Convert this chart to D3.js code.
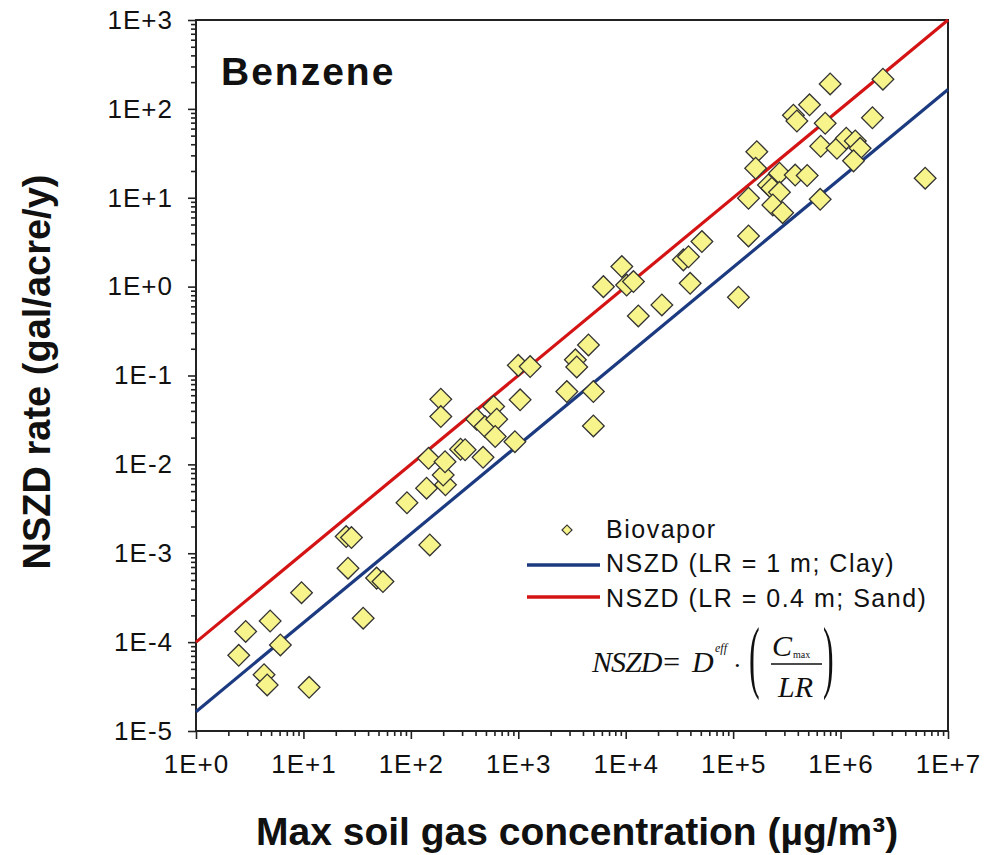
<!doctype html>
<html lang="en">
<head>
<meta charset="utf-8" />
<title>Benzene NSZD vs soil gas</title>
<script src="https://d3js.org/d3.v7.min.js"></script>
<style>
  body { margin: 0; background: #fff; }
  svg text { font-family: "Liberation Sans", Arial, sans-serif; fill: #111; }
</style>
</head>
<body>
<svg id="chart" width="985" height="855"></svg>
<script>
// Biovapor points: max soil gas concentration (ug/m3) and NSZD rate (gal/acre/y)
const conc = [2.5, 2.9, 4.9, 6.1, 4.3, 4.6, 11.3, 9.6,
  25, 28, 26, 48, 55, 36,
  92, 150, 140, 210, 200, 146, 208, 190, 190,
  290, 320, 470, 410, 490, 590, 630, 610, 930,
  1040, 1000, 1290, 2830, 5000, 5000, 3400, 3500, 4500,
  6200, 9200, 10200, 11800, 13100, 21700, 39800, 34400, 38400, 51200,
  112000, 139000, 139000, 166000, 162000, 213000, 229000, 270000, 270000, 234000,
  289000, 378000, 489000, 364000, 392000, 514000, 800000, 2.48e6, 719000, 1.98e6,
  653000, 925000, 1.13e6, 1.37e6, 1.52e6, 1.32e6, 646000, 6.13e6];
const rate = [7.1e-5, 1.32e-4, 1.73e-4, 9.3e-5, 4.3e-5, 3.3e-5, 3.1e-5, 3.6e-4,
  1.54e-3, 1.5e-3, 6.8e-4, 5.25e-4, 4.8e-4, 1.86e-4,
  3.7e-3, 1.24e-3, 5.4e-3, 5.9e-3, 7.6e-3, 0.0117, 0.0107, 0.054, 0.0345,
  0.0148, 0.0146, 0.012, 0.0322, 0.0266, 0.0447, 0.0322, 0.0206, 0.018,
  0.0532, 0.13, 0.126, 0.0659, 0.0659, 0.0271, 0.15, 0.125, 0.221,
  1.0, 1.68, 1.04, 1.14, 0.468, 0.622, 1.09, 2.0, 2.17, 3.21,
  0.76, 3.72, 9.87, 33, 21.5, 13.9, 12.8, 18.9, 11.5, 8.3,
  6.8, 18.0, 17.8, 85, 73, 111, 191, 216, 68.9, 79.4,
  38, 36, 46.7, 43.5, 36, 26, 9.6, 16.6];

// model lines, end points
const clayLine = [[1, 1.65e-5], [1e7, 165]];
const sandLine = [[1, 1e-4], [1e7, 1e3]];

const xDecades = [1, 10, 100, 1e3, 1e4, 1e5, 1e6, 1e7];
const yDecades = [1e-5, 1e-4, 1e-3, 1e-2, 1e-1, 1, 10, 100, 1000];

const legendLabels = ["Biovapor", "NSZD (LR = 1 m; Clay)", "NSZD (LR = 0.4 m; Sand)"];

const svg = d3.select("#chart");
const pLeft = 196, pRight = 948, pTop = 20, pBottom = 731;

const x = d3.scaleLog().domain([1, 1e7]).range([pLeft, pRight]);
const y = d3.scaleLog().domain([1e-5, 1e3]).range([pBottom, pTop]);

const fmt = v => {
  const e = Math.round(Math.log10(v));
  return "1E" + (e < 0 ? "-" : "+") + Math.abs(e);
};
const minors = decs => decs.slice(0, -1).flatMap(d => d3.range(2, 10).map(k => d * k));

// minor ticks
svg.append("g").attr("transform", `translate(0,${pBottom})`)
  .call(d3.axisBottom(x).tickValues(minors(xDecades)).tickSize(5).tickFormat(""))
  .call(g => g.select(".domain").remove());
svg.append("g").attr("transform", `translate(${pLeft},0)`)
  .call(d3.axisLeft(y).tickValues(minors(yDecades)).tickSize(5).tickFormat(""))
  .call(g => g.select(".domain").remove());

// major ticks + labels
const xAxis = svg.append("g").attr("transform", `translate(0,${pBottom})`)
  .call(d3.axisBottom(x).tickValues(xDecades).tickSize(8).tickPadding(16).tickFormat(fmt));
const yAxis = svg.append("g").attr("transform", `translate(${pLeft},0)`)
  .call(d3.axisLeft(y).tickValues(yDecades).tickSize(8).tickPadding(15).tickFormat(fmt));

[xAxis, yAxis].forEach(g => {
  g.selectAll("text").attr("font-size", 26).attr("letter-spacing", 1)
    .style("font-family", '"Liberation Sans", Arial, sans-serif');
  g.select(".domain").remove();
});
svg.selectAll(".tick line").attr("stroke", "#222").attr("stroke-width", 1.6);

// frame
svg.append("rect")
  .attr("x", pLeft).attr("y", pTop)
  .attr("width", pRight - pLeft).attr("height", pBottom - pTop)
  .attr("fill", "none").attr("stroke", "#222").attr("stroke-width", 2);

// lines
const line = d3.line().x(d => x(d[0])).y(d => y(d[1]));
svg.append("path").datum(clayLine).attr("d", line)
  .attr("fill", "none").attr("stroke", "#1b3a80").attr("stroke-width", 3.2);
svg.append("path").datum(sandLine).attr("d", line)
  .attr("fill", "none").attr("stroke", "#d41414").attr("stroke-width", 3.2);

// points
const diamond = d3.symbol().type(d3.symbolSquare).size(235);
svg.append("g").selectAll("path")
  .data(conc.map((c, i) => [c, rate[i]]))
  .join("path")
    .attr("d", diamond)
    .attr("transform", d => `translate(${x(d[0])},${y(d[1])}) rotate(45)`)
    .attr("fill", "#f8f48c")
    .attr("stroke", "#333")
    .attr("stroke-width", 1.3);

// title
svg.append("text").attr("x", 221).attr("y", 85)
  .attr("font-size", 39).attr("font-weight", "bold").attr("letter-spacing", 2)
  .text("Benzene");

// axis titles
svg.append("text").attr("x", 256).attr("y", 845)
  .attr("font-size", 39).attr("font-weight", "bold")
  .text("Max soil gas concentration (µg/m³)");
svg.append("text")
  .attr("transform", "translate(50,372) rotate(-90)")
  .attr("text-anchor", "middle")
  .attr("font-size", 38).attr("font-weight", "bold")
  .text("NSZD rate (gal/acre/y)");

// legend
const leg = svg.append("g");
leg.append("path")
  .attr("d", d3.symbol().type(d3.symbolSquare).size(50))
  .attr("transform", "translate(567,530) rotate(45)")
  .attr("fill", "#f8f48c").attr("stroke", "#333").attr("stroke-width", 1.2);
leg.append("line").attr("x1", 527).attr("x2", 600).attr("y1", 565).attr("y2", 565)
  .attr("stroke", "#1b3a80").attr("stroke-width", 3.4);
leg.append("line").attr("x1", 527).attr("x2", 600).attr("y1", 597).attr("y2", 597)
  .attr("stroke", "#d41414").attr("stroke-width", 3.4);
leg.selectAll("text.lab")
  .data(legendLabels)
  .join("text")
    .attr("class", "lab")
    .attr("x", 606)
    .attr("y", (d, i) => [538, 572, 607][i])
    .attr("font-size", 25).attr("letter-spacing", 1.5)
    .text(d => d);

// formula
const serif = '"Liberation Serif", "Times New Roman", serif';
const f = svg.append("g").style("font-style", "italic");
f.append("text").attr("x", 592).attr("y", 672).attr("font-size", 30)
  .style("font-family", serif).attr("letter-spacing", -1).text("NSZD=");
f.append("text").attr("x", 692).attr("y", 672).attr("font-size", 30)
  .style("font-family", serif).text("D");
f.append("text").attr("x", 715).attr("y", 652).attr("font-size", 12)
  .style("font-family", serif).text("eff");
f.append("text").attr("x", 733).attr("y", 674).attr("font-size", 26)
  .style("font-family", serif).style("font-style", "normal").text("·");
f.append("text").attr("transform", "translate(749,683) scale(1,2.5)")
  .attr("font-size", 32).style("font-family", serif).style("font-style", "normal").text("(");
f.append("text").attr("transform", "translate(823,683) scale(1,2.5)")
  .attr("font-size", 32).style("font-family", serif).style("font-style", "normal").text(")");
f.append("text").attr("x", 772).attr("y", 656).attr("font-size", 30)
  .style("font-family", serif).text("C");
f.append("text").attr("x", 793).attr("y", 658).attr("font-size", 10)
  .style("font-family", serif).style("font-style", "normal").text("max");
f.append("line").attr("x1", 771).attr("x2", 822).attr("y1", 664).attr("y2", 664)
  .attr("stroke", "#111").attr("stroke-width", 1.5);
f.append("text").attr("x", 778).attr("y", 697).attr("font-size", 30)
  .style("font-family", serif).text("LR");
</script>
</body>
</html>
